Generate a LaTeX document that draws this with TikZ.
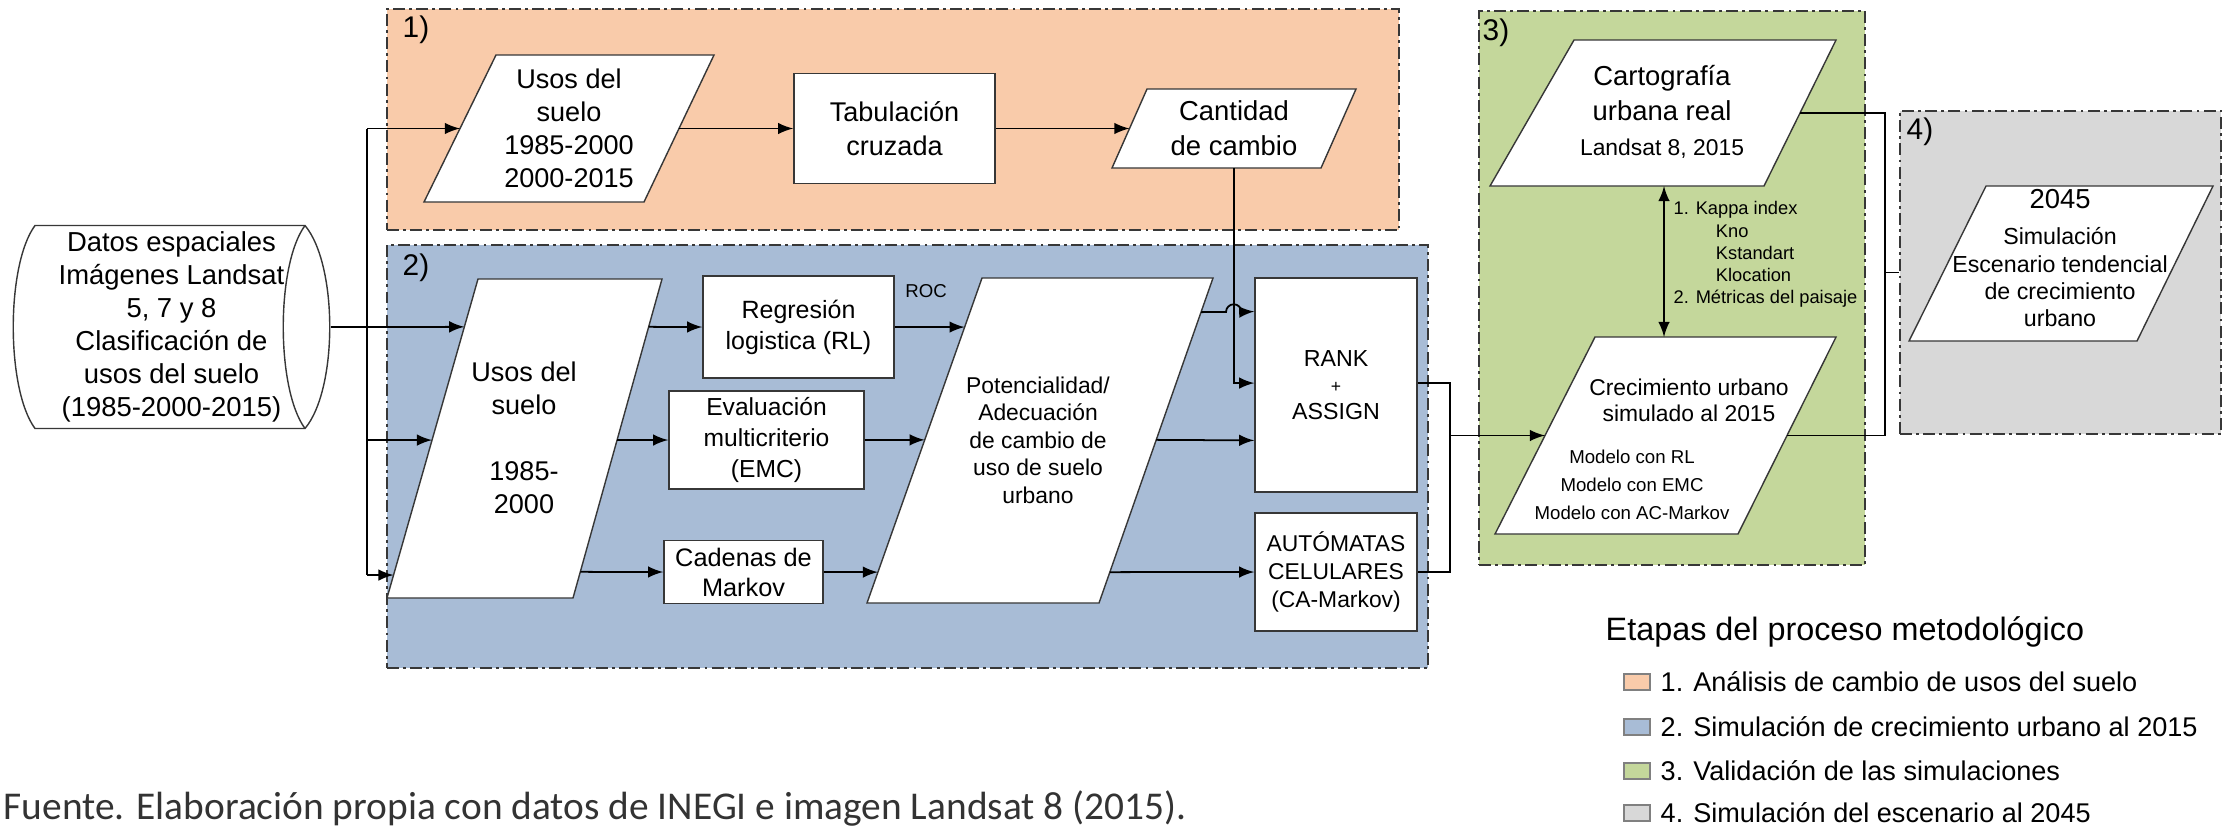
\documentclass[tikz,border=0pt]{standalone}
\usepackage{fontspec}
\setmainfont{Liberation Sans}
\newfontfamily\fuentefont{Carlito}
\usepackage{tikz}
\usetikzlibrary{positioning,arrows,calc}
\tikzset{>=latex}
\definecolor{etapaA}{RGB}{249,203,170}
\definecolor{etapaB}{RGB}{168,188,214}
\definecolor{etapaC}{RGB}{196,215,155}
\definecolor{etapaD}{RGB}{216,216,216}
\definecolor{contorno}{RGB}{55,55,55}
\newcommand{\fsz}[2]{\fontsize{#1}{#2}\selectfont}

\begin{document}
\begin{tikzpicture}[x=0.01cm, y=-0.01cm]
    \tikzset{%
      etapa/.style={draw=contorno, line width=0.55pt, dash pattern=on 3.4pt off 1.2pt on 0.8pt off 1.2pt, inner sep=0},
      caja/.style={fill=white, draw=contorno, line width=0.4pt, inner sep=0, align=center},
      para/.style={fill=white, draw=contorno, line width=0.4pt},
      txt/.style={inner sep=0, align=center, font=\fsz{7.7}{9.4}},
      flujo/.style={->, line width=0.5pt},
      linea/.style={line width=0.5pt},
      num/.style={inner sep=0, font=\fsz{8.5}{10}},
      muestra/.style={draw=gray, line width=0.4pt, minimum width=0.26cm, minimum height=0.16cm, inner sep=0},
      leyenda/.style={anchor=west, inner sep=0, font=\fsz{7.7}{9}}
      }
    \useasboundingbox (0,0) rectangle (2228,830);

    \node [etapa, fill=etapaA, minimum width=10.12cm, minimum height=2.21cm] (etapa1) at (893,119.5) {};
    \node [etapa, fill=etapaB, minimum width=10.41cm, minimum height=4.23cm] (etapa2) at (907.5,456.5) {};
    \node [etapa, fill=etapaC, minimum width=3.86cm, minimum height=5.54cm] (etapa3) at (1672,288) {};
    \node [etapa, fill=etapaD, minimum width=3.21cm, minimum height=3.23cm] (etapa4) at (2060.5,272.5) {};
    \node [num] (n1) at (416,30) {1)};
    \node [num] (n2) at (416,268) {2)};
    \node [num] (n3) at (1496,33) {3)};
    \node [num] (n4) at (1920,132) {4)};

    \draw [para] (35,225.5) -- (305,225.5) .. controls (338,265) and (338,389) .. (305,428.5) -- (35,428.5) .. controls (6,389) and (6,265) .. (35,225.5) -- cycle;
    \draw [para, fill=none] (305,225.5) .. controls (276,265) and (276,389) .. (305,428.5);
    \node [txt, minimum width=3.17cm, minimum height=2.03cm, font=\fsz{7.8}{9.4}] (datos) at (171.5,327) {Datos espaciales\\Imágenes Landsat\\5, 7 y 8\\Clasificación de\\usos del suelo\\(1985-2000-2015)};

    \draw [para] (424,202) coordinate (u1bl) -- (644,202) coordinate (u1br) -- (714,55) coordinate (u1tr) -- (496,55) coordinate (u1tl) -- cycle;
    \node [txt] (usos1) at (569,128) {Usos del\\suelo\\1985-2000\\2000-2015};
    \node [caja, minimum width=2.01cm, minimum height=1.10cm, font=\fsz{7.7}{9.7}] (tab) at (894.5,128.5) {Tabulación\\cruzada};
    \draw [para] (1112,168) coordinate (cabl) -- (1321,168) coordinate (cabr) -- (1356,89) coordinate (catr) -- (1147,89) coordinate (catl) -- cycle;
    \node [txt, font=\fsz{7.8}{10}] (cant) at (1234,128.5) {Cantidad\\de cambio};

    \draw [para] (387,598) coordinate (u2bl) -- (573,598) coordinate (u2br) -- (662,279) coordinate (u2tr) -- (478,279) coordinate (u2tl) -- cycle;
    \node [txt] (usos2) at (524,438) {Usos del\\suelo\\[9.4pt]1985-\\2000};
    \node [caja, minimum width=1.91cm, minimum height=1.02cm, font=\fsz{7.1}{8.8}] (rl) at (798.5,327) {Regresión\\logistica (RL)};
    \node [caja, minimum width=1.95cm, minimum height=0.98cm, font=\fsz{7}{8.8}] (emc) at (766.5,440) {Evaluación\\multicriterio\\(EMC)};
    \node [caja, minimum width=1.59cm, minimum height=0.63cm, font=\fsz{7.2}{8.5}] (markov) at (743.5,572) {Cadenas de\\Markov};
    \node [inner sep=0, font=\fsz{5.3}{6}] (roc) at (926,291) {ROC};
    \draw [para] (867,603) coordinate (pobl) -- (1099,603) coordinate (pobr) -- (1213,278) coordinate (potr) -- (982,278) coordinate (potl) -- cycle;
    \node [txt, font=\fsz{6.5}{7.8}] (pot) at (1038,440) {Potencialidad/\\Adecuación\\de cambio de\\uso de suelo\\urbano};
    \node [caja, minimum width=1.62cm, minimum height=2.14cm, font=\fsz{6.6}{7.5}] (rank) at (1336,385) {RANK\\{\fsz{5}{7.5}+}\\ASSIGN};
    \node [caja, minimum width=1.62cm, minimum height=1.18cm, font=\fsz{6.5}{8}] (ac) at (1336,572) {AUTÓMATAS\\CELULARES\\(CA-Markov)};

    \draw [para] (1490,186) coordinate (crbl) -- (1764,186) coordinate (crbr) -- (1836,40) coordinate (crtr) -- (1574,40) coordinate (crtl) -- cycle;
    \node [txt, font=\fsz{7.8}{10}] (carto) at (1662,112) {Cartografía\\urbana real\\{\fsz{6.5}{10}Landsat 8, 2015}};
    \draw [para] (1495,534) coordinate (cbl) -- (1738,534) coordinate (cbr) -- (1836,337) coordinate (ctr) -- (1595,337) coordinate (ctl) -- cycle;
    \node [txt, font=\fsz{6.5}{7.4}] (crec) at (1689,400) {Crecimiento urbano\\simulado al 2015};
    \node [txt, font=\fsz{5.3}{8}] (modelos) at (1632,485) {Modelo con RL\\Modelo con EMC\\Modelo con AC-Markov};
    \coordinate (kx) at (1664,113);
    \node [anchor=north west, inner sep=0, align=left, font=\fsz{5.2}{6.3}] (kappa) at (1673,201) {1. Kappa index\\\hspace*{12pt}Kno\\\hspace*{12pt}Kstandart\\\hspace*{12pt}Klocation\\2. Métricas del paisaje};

    \draw [para] (1909,341) coordinate (esbl) -- (2137,341) coordinate (esbr) -- (2213,186) coordinate (estr) -- (1986,186) coordinate (estl) -- cycle;
    \node [txt, font=\fsz{6.6}{7.7}] (escen) at (2060,258) {{\fsz{7.8}{10}2045}\\[2.6pt]Simulación\\Escenario tendencial\\de crecimiento\\urbano};

    \coordinate (jt) at (367,128.5);
    \coordinate (jm) at (367,440);
    \coordinate (jb) at (367,575);
    \coordinate (jr) at (1450,435.5);
    \coordinate (jk) at (1885,272.5);

    \draw [flujo] (datos.east) -- ($(u2tl)!.150!(u2bl)$);
    \draw [linea] (jt) -- (jb);
    \draw [flujo] (jt) -- ($(u1tl)!.5!(u1bl)$);
    \draw [flujo] (jm) -- ($(u2tl)!.505!(u2bl)$);
    \draw [flujo] (jb) -- ($(u2tl)!.928!(u2bl)$);

    \draw [flujo] ($(u1tr)!.5!(u1br)$) -- (tab.west);
    \draw [flujo] (tab.east) -- ($(catl)!.5!(cabl)$);
    \draw [flujo] (cant |- cabl) |- ($(rank.north west)!.491!(rank.south west)$);

    \draw [flujo] ($(u2tr)!.150!(u2br)$) -- (rl.west);
    \draw [flujo] ($(u2tr)!.505!(u2br)$) -- (emc.west);
    \draw [flujo] ($(u2tr)!.918!(u2br)$) -- (markov.west);
    \draw [flujo] (rl.east) -- ($(potl)!.151!(pobl)$);
    \draw [flujo] (emc.east) -- ($(potl)!.498!(pobl)$);
    \draw [flujo] (markov.east) -- ($(potl)!.905!(pobl)$);

    \draw [flujo] ($(potr)!.105!(pobr)$) -- (1226,312) arc [start angle=180, end angle=0, radius=2.2pt] -- ($(rank.north west)!.159!(rank.south west)$);
    \draw [flujo] ($(potr)!.498!(pobr)$) -- ($(rank.north west)!.757!(rank.south west)$);
    \draw [flujo] ($(potr)!.905!(pobr)$) -- (ac.west);

    \draw [linea] ($(rank.north east)!.491!(rank.south east)$) -| (jr) |- (ac.east);
    \draw [flujo] (jr) -- ($(ctl)!.5!(cbl)$);

    \draw [<->, linea] (kx |- crbl) -- (kx |- ctl);
    \draw [linea] ($(ctr)!.5!(cbr)$) -| (jk) |- ($(crtr)!.5!(crbr)$);
    \draw [linea] (jk) -- (etapa4.west);

    \node [anchor=west, inner sep=0, font=\fsz{9.2}{11}] (titulo) at (1605,632) {Etapas del proceso metodológico};
    \node [muestra, fill=etapaA] (m1) at (1637,682) {};
    \node [muestra, fill=etapaB] (m2) at (1637,727) {};
    \node [muestra, fill=etapaC] (m3) at (1637,771) {};
    \node [muestra, fill=etapaD] (m4) at (1637,813) {};
    \node [leyenda] (l1) at (1660,682) {1. Análisis de cambio de usos del suelo};
    \node [leyenda] (l2) at (1660,727) {2. Simulación de crecimiento urbano al 2015};
    \node [leyenda] (l3) at (1660,771) {3. Validación de las simulaciones};
    \node [leyenda] (l4) at (1660,813) {4. Simulación del escenario al 2045};

    \node [anchor=base west, inner sep=0, text=black!80, font=\fuentefont\fsz{11.2}{13}] (fuente) at (3,819) {Fuente. Elaboración propia con datos de INEGI e imagen Landsat 8 (2015).};
\end{tikzpicture}
\end{document}
